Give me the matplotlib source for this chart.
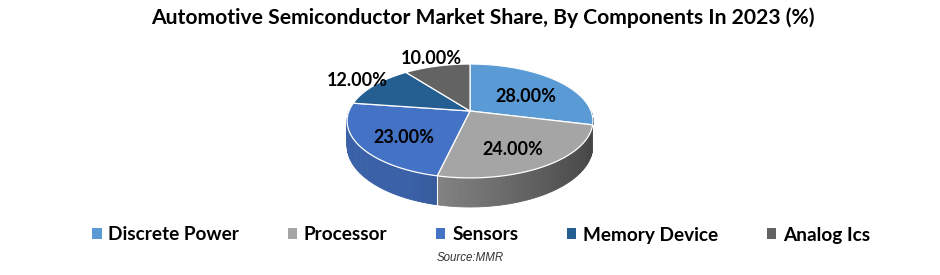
import matplotlib.pyplot as plt
import numpy as np
from matplotlib.patches import Patch, Polygon

components = ["Discrete Power", "Processor", "Sensors", "Memory Device", "Analog Ics"]
shares = [28.0, 24.0, 23.0, 12.0, 10.0]
colors = ["#5b9bd5", "#a5a5a5", "#4472c4", "#255e91", "#636363"]
outside = [False, False, False, True, True]

W, H = 940, 275
cx, cy = 470, 111  # apex of the pie, pixels
a, b = 121, 55.2  # ellipse radii before perspective
e = 0.175  # perspective factor
depth = 24


def project(t, r=1.0, dz=0.0):
    w = 1 + e * r * np.sin(t)
    x = cx + a * r * np.cos(t) / w
    y = cy - b * r * np.sin(t) / w + dz / w
    return x, y


def shade(color, f):
    rgb = np.array(plt.matplotlib.colors.to_rgb(color))
    return tuple(np.clip(rgb * f, 0, 1))


fig = plt.figure(figsize=(9.4, 2.75), dpi=100)
ax = fig.add_axes([0, 0, 1, 1])
ax.set_xlim(0, W)
ax.set_ylim(H, 0)
ax.axis("off")

# slice angles, clockwise from top
fracs = np.array(shares) / sum(shares)
ends = np.pi / 2 - 2 * np.pi * np.cumsum(fracs)
starts = np.concatenate([[np.pi / 2], ends[:-1]])

# side walls (only front half visible)
for s, en, c in zip(starts, ends, colors):
    lo, hi = max(en, -np.pi), min(s, 0.0)
    if lo >= hi:
        continue
    ts = np.linspace(hi, lo, 60)
    for t0, t1 in zip(ts[:-1], ts[1:]):
        tm = 0.5 * (t0 + t1)
        f = min(0.85, 0.72 - 0.32 * np.cos(tm))
        x0, y0 = project(t0)
        x1, y1 = project(t1)
        x2, y2 = project(t1, dz=depth)
        x3, y3 = project(t0, dz=depth)
        ax.add_patch(Polygon([(x0, y0), (x1, y1), (x2, y2), (x3, y3)],
                             closed=True, facecolor=shade(c, f),
                             edgecolor=shade(c, f), lw=0.6))
# white seams on the wall at slice boundaries
for t in starts:
    if -np.pi < t < 0:
        x0, y0 = project(t)
        x1, y1 = project(t, dz=depth)
        ax.plot([x0, x1], [y0, y1], color="white", lw=0.8)

# top face
for s, en, c in zip(starts, ends, colors):
    ts = np.linspace(s, en, 120)
    xs, ys = project(ts)
    pts = [(cx, cy)] + list(zip(xs, ys))
    ax.add_patch(Polygon(pts, closed=True, facecolor=c, edgecolor="white", lw=0.9))

# labels
for s, en, v, out in zip(starts, ends, shares, outside):
    tm = 0.5 * (s + en)
    if out:
        x, y = project(tm, r=1.2)
    else:
        x, y = project(tm, r=0.62, dz=6)
    ax.text(x, y, f"{v:.2f}%", ha="center", va="center", fontsize=13,
            fontweight="bold", family="Lato", color="black")

fig.text(483 / W, 1 - 18 / H, "Automotive Semiconductor Market Share, By Components In 2023 (%)",
         ha="center", va="center", fontsize=15.2, fontweight="bold", family="Lato")

handles = [Patch(facecolor=c, edgecolor="none") for c in colors]
leg = fig.legend(handles, components, loc="center", bbox_to_anchor=(481 / W, 1 - 235 / H),
                 ncol=5, frameon=False, columnspacing=2.55, handlelength=0.5,
                 handleheight=0.5, handletextpad=0.35,
                 prop={"family": "Lato", "weight": "bold", "size": 13.7})

fig.text(0.5, 1 - 258 / H, "Source:MMR", ha="center", va="center", fontsize=8.3,
         style="italic", family="Liberation Sans", color="#333333")

fig.savefig("out.png", dpi=100)
